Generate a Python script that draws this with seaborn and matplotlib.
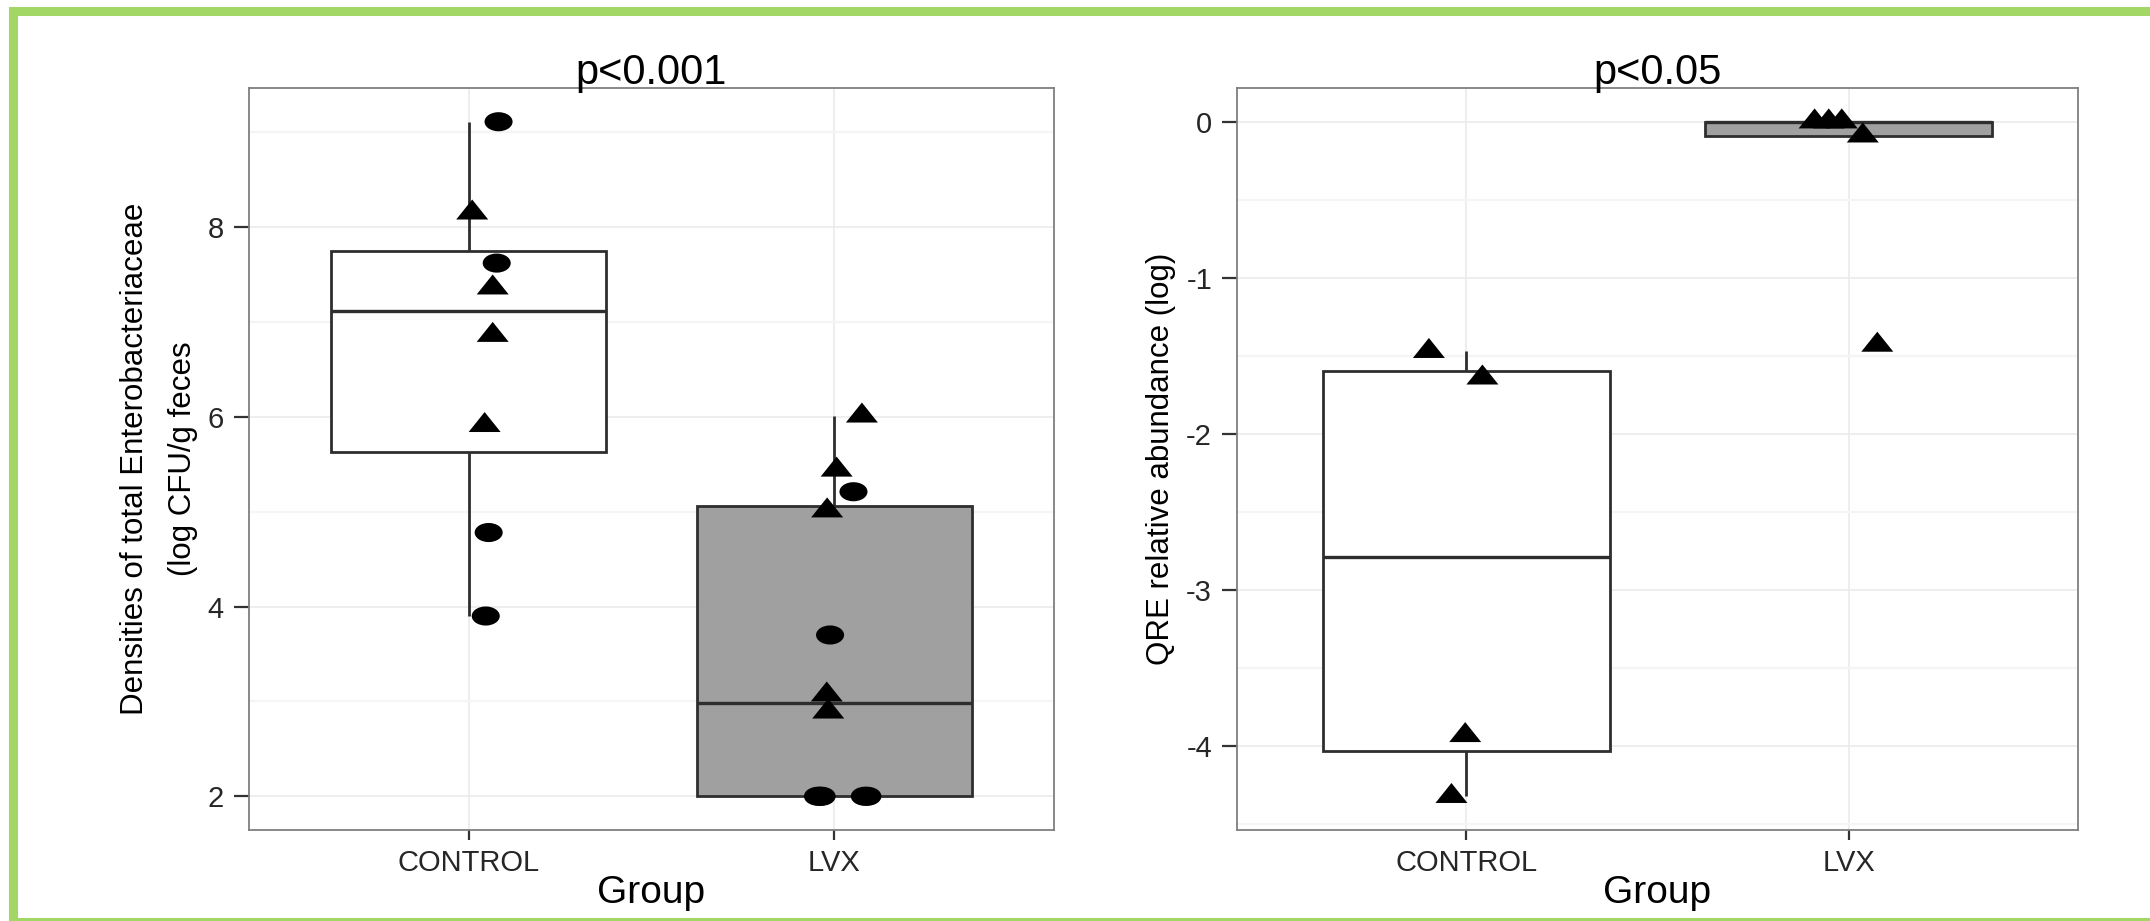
import numpy as np
import pandas as pd
import matplotlib
matplotlib.use("Agg")
import matplotlib.pyplot as plt
from matplotlib.path import Path
from matplotlib.patches import Rectangle
from matplotlib.transforms import Affine2D
from matplotlib.ticker import FixedLocator
import seaborn as sns

# ---------------- data ----------------
groups = ["CONTROL", "LVX"]
box_fills = ["#FFFFFF", "#A0A0A0"]

# Panel 1: densities of total Enterobacteriaceae
ent_title = "p<0.001"
ent_ylabel = "Densities of total Enterobacteriaceae\n(log CFU/g feces"
ent_group = ["CONTROL"] * 8 + ["LVX"] * 12
ent_value = [9.11, 8.15, 7.62, 7.36, 6.86, 5.91, 4.78, 3.90,
             6.01, 5.44, 5.21, 5.01, 3.70, 3.07, 2.89, 2.00, 2.00, 2.00, 2.00, 2.00]
ent_shape = ["circle", "triangle", "circle", "triangle", "triangle", "triangle", "circle", "circle",
             "triangle", "triangle", "circle", "triangle", "circle", "triangle", "triangle",
             "circle", "circle", "circle", "circle", "circle"]
ent_jitter = [0.082, 0.010, 0.077, 0.066, 0.066, 0.044, 0.055, 0.047,
              0.075, 0.006, 0.052, -0.020, -0.012, -0.021, -0.017,
              -0.045, -0.035, -0.040, 0.083, 0.090]
ent_ticks = [2, 4, 6, 8]
ent_ticklabels = ["2", "4", "6", "8"]

# Panel 2: QRE relative abundance
qre_title = "p<0.05"
qre_ylabel = "QRE relative abundance (log)"
qre_group = ["CONTROL"] * 4 + ["LVX"] * 5
qre_value = [-1.47, -1.64, -3.93, -4.32, 0.0, 0.0, 0.0, -0.09, -1.43]
qre_shape = ["triangle"] * 9
qre_jitter = [-0.098, 0.042, -0.003, -0.039, -0.089, -0.052, -0.018, 0.037, 0.075]
qre_ticks = [0, -1, -2, -3, -4]
qre_ticklabels = ["0", "-1", "-2", "-3", "-4"]

xlabel = "Group"

# ---------------- style ----------------
sns.set_style("white")
plt.rcParams["font.family"] = ["Liberation Sans", "DejaVu Sans"]
plt.rcParams["axes.unicode_minus"] = False

W, H = 2150, 921
fig = plt.figure(figsize=(W / 100, H / 100), dpi=100)
fig.patch.set_facecolor("white")

# stretched marker shapes (the source image is horizontally stretched)
ellipse = Path.unit_circle().transformed(Affine2D().scale(1.0, 0.68))
triangle = Path([(0, 13.3), (-16, -6.7), (16, -6.7), (0, 13.3)],
                [Path.MOVETO, Path.LINETO, Path.LINETO, Path.CLOSEPOLY])
markers = {"circle": ellipse, "triangle": triangle}
marker_sizes = {"circle": 408, "triangle": 531}

BOX_EDGE = "#2E2E2E"
GRID_MAJOR = "#EAEAEA"
GRID_MINOR = "#F5F5F5"
BORDER = "#7F7F7F"
TEXT_TICK = "#262626"


def draw_panel(rect, grp, val, shp, jit, ticks, ticklabels, title, ylabel, ylabel_x, ylabel_fs, linesp):
    ax = fig.add_axes(rect)
    df = pd.DataFrame({"Group": grp, "value": val, "shape": shp, "jitter": jit})
    pal = dict(zip(groups, box_fills))
    sns.boxplot(data=df, x="Group", y="value", hue="Group", order=groups, hue_order=groups,
                palette=pal, saturation=1, width=0.75, linecolor=BOX_EDGE, linewidth=2.0,
                whis=1.5, showcaps=False, showfliers=False, legend=False, ax=ax,
                medianprops={"linewidth": 2.4})
    code = {g: i for i, g in enumerate(groups)}
    df["pos"] = df["Group"].map(code) + df["jitter"]
    sns.scatterplot(data=df, x="pos", y="value", style="shape", markers=markers,
                    size="shape", sizes=marker_sizes, color="black", edgecolor="none",
                    linewidth=0, legend=False, ax=ax, zorder=4)

    vmin, vmax = min(val), max(val)
    rng = vmax - vmin
    ax.set_ylim(vmin - 0.05 * rng, vmax + 0.05 * rng)
    ax.set_xlim(-0.6, len(groups) - 1 + 0.6)

    ax.yaxis.set_major_locator(FixedLocator(ticks))
    ax.set_yticklabels(ticklabels)
    st = sorted(ticks)
    step = st[1] - st[0]
    lo, hi = ax.get_ylim()
    minor = [t + step / 2 for t in np.arange(st[0] - step, st[-1] + step, step)
             if lo <= t + step / 2 <= hi]
    ax.yaxis.set_minor_locator(FixedLocator(minor))
    ax.set_xticks(range(len(groups)))
    ax.set_xticklabels(groups)

    ax.set_axisbelow(True)
    ax.grid(axis="y", which="minor", color=GRID_MINOR, linewidth=1.6)
    ax.grid(axis="y", which="major", color=GRID_MAJOR, linewidth=1.1)
    ax.grid(axis="x", which="major", color=GRID_MAJOR, linewidth=1.1)

    for sp in ax.spines.values():
        sp.set_visible(True)
        sp.set_color(BORDER)
        sp.set_linewidth(1.3)

    ax.tick_params(axis="y", which="major", length=11, width=1.6, color="#333333",
                   pad=7, labelsize=21, labelcolor=TEXT_TICK, left=True)
    ax.tick_params(axis="x", which="major", length=7, width=1.6, color="#333333",
                   pad=7, labelsize=21, labelcolor=TEXT_TICK, bottom=True)
    ax.tick_params(which="minor", length=0)

    ax.set_title(title, fontsize=30, pad=3, color="black")
    ax.set_xlabel(xlabel, fontsize=28, color="black", va="top")
    ax.xaxis.set_label_coords(0.5, -0.060)
    ax.set_ylabel(ylabel, fontsize=ylabel_fs, color="black", va="center", ha="center",
                  multialignment="center", linespacing=linesp)
    ax.yaxis.set_label_coords(ylabel_x, 0.5)
    return ax


bottom = 1 - 830 / H
height = 742 / H
draw_panel([249 / W, bottom, 805 / W, height], ent_group, ent_value, ent_shape, ent_jitter,
           ent_ticks, ent_ticklabels, ent_title, ent_ylabel, -0.1118, 22.5, 1.75)
draw_panel([1237 / W, bottom, 841 / W, height], qre_group, qre_value, qre_shape, qre_jitter,
           qre_ticks, qre_ticklabels, qre_title, qre_ylabel, -0.0904, 22.5, 1.2)

# green frame around the figure (cut off on the right and bottom)
frame = Rectangle((12.5 / W, -1.0 / H), 2.0, (922 - 11) / H, transform=fig.transFigure,
                  fill=False, edgecolor="#A2D665", linewidth=6.5, clip_on=False)
fig.add_artist(frame)

fig.savefig("out.png", dpi=100, facecolor="white")
